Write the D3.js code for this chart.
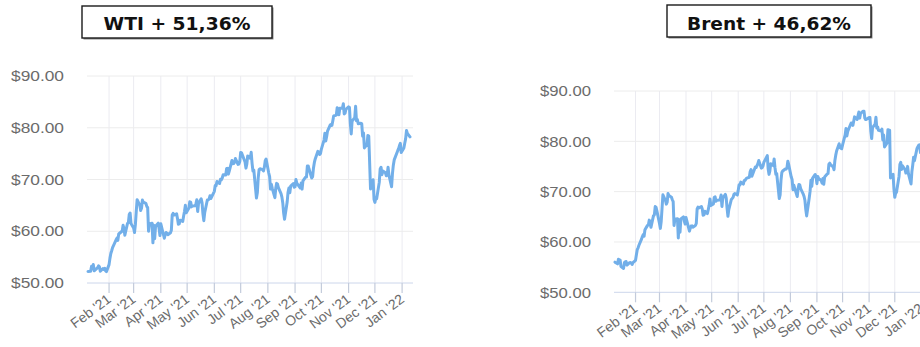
<!DOCTYPE html>
<html><head><meta charset="utf-8">
<script src="https://cdn.jsdelivr.net/npm/d3@7"></script>
<style>html,body{margin:0;padding:0;background:#fff;overflow:hidden}svg{display:block}</style>
</head><body>
<svg id="chart" width="920" height="347"></svg>
<script>
// ---------- DATA ----------
const titles = ["WTI + 51,36%", "Brent + 46,62%"];
const yTicks = [50, 60, 70, 80, 90];
const monthTicks = ["2021-02-01","2021-03-01","2021-04-01","2021-05-01","2021-06-01","2021-07-01",
  "2021-08-01","2021-09-01","2021-10-01","2021-11-01","2021-12-01","2022-01-01"];
const dates = [
  // Jan 2021
  "2021-01-08","2021-01-11","2021-01-12","2021-01-13","2021-01-14","2021-01-15","2021-01-18","2021-01-19","2021-01-20","2021-01-21","2021-01-22","2021-01-25","2021-01-26","2021-01-27","2021-01-28","2021-01-29",
  // Feb
  "2021-02-01","2021-02-02","2021-02-03","2021-02-04","2021-02-05","2021-02-08","2021-02-09","2021-02-10","2021-02-11","2021-02-12","2021-02-15","2021-02-16","2021-02-17","2021-02-18","2021-02-19","2021-02-22","2021-02-23","2021-02-24","2021-02-25","2021-02-26",
  // Mar
  "2021-03-01","2021-03-02","2021-03-03","2021-03-04","2021-03-05","2021-03-08","2021-03-09","2021-03-10","2021-03-11","2021-03-12","2021-03-15","2021-03-16","2021-03-17","2021-03-18","2021-03-19","2021-03-22","2021-03-23","2021-03-24","2021-03-25","2021-03-26","2021-03-29","2021-03-30","2021-03-31",
  // Apr
  "2021-04-01","2021-04-05","2021-04-06","2021-04-07","2021-04-08","2021-04-09","2021-04-12","2021-04-13","2021-04-14","2021-04-15","2021-04-16","2021-04-19","2021-04-20","2021-04-21","2021-04-22","2021-04-23","2021-04-26","2021-04-27","2021-04-28","2021-04-29","2021-04-30",
  // May
  "2021-05-03","2021-05-04","2021-05-05","2021-05-06","2021-05-07","2021-05-10","2021-05-11","2021-05-12","2021-05-13","2021-05-14","2021-05-17","2021-05-18","2021-05-19","2021-05-20","2021-05-21","2021-05-24","2021-05-25","2021-05-26","2021-05-27","2021-05-28","2021-05-31",
  // Jun
  "2021-06-01","2021-06-02","2021-06-03","2021-06-04","2021-06-07","2021-06-08","2021-06-09","2021-06-10","2021-06-11","2021-06-14","2021-06-15","2021-06-16","2021-06-17","2021-06-18","2021-06-21","2021-06-22","2021-06-23","2021-06-24","2021-06-25","2021-06-28","2021-06-29","2021-06-30",
  // Jul
  "2021-07-01","2021-07-02","2021-07-05","2021-07-06","2021-07-07","2021-07-08","2021-07-09","2021-07-12","2021-07-13","2021-07-14","2021-07-15","2021-07-16","2021-07-19","2021-07-20","2021-07-21","2021-07-22","2021-07-23","2021-07-26","2021-07-27","2021-07-28","2021-07-29","2021-07-30",
  // Aug
  "2021-08-02","2021-08-03","2021-08-04","2021-08-05","2021-08-06","2021-08-09","2021-08-10","2021-08-11","2021-08-12","2021-08-13","2021-08-16","2021-08-17","2021-08-18","2021-08-19","2021-08-20","2021-08-23","2021-08-24","2021-08-25","2021-08-26","2021-08-27","2021-08-30","2021-08-31",
  // Sep
  "2021-09-01","2021-09-02","2021-09-03","2021-09-06","2021-09-07","2021-09-08","2021-09-09","2021-09-10","2021-09-13","2021-09-14","2021-09-15","2021-09-16","2021-09-17","2021-09-20","2021-09-21","2021-09-22","2021-09-23","2021-09-24","2021-09-27","2021-09-28","2021-09-29","2021-09-30",
  // Oct
  "2021-10-01","2021-10-04","2021-10-05","2021-10-06","2021-10-07","2021-10-08","2021-10-11","2021-10-12","2021-10-13","2021-10-14","2021-10-15","2021-10-18","2021-10-19","2021-10-20","2021-10-21","2021-10-22","2021-10-25","2021-10-26","2021-10-27","2021-10-28","2021-10-29",
  // Nov
  "2021-11-01","2021-11-02","2021-11-03","2021-11-04","2021-11-05","2021-11-08","2021-11-09","2021-11-10","2021-11-11","2021-11-12","2021-11-15","2021-11-16","2021-11-17","2021-11-18","2021-11-19","2021-11-22","2021-11-23","2021-11-24","2021-11-25","2021-11-26","2021-11-29","2021-11-30",
  // Dec
  "2021-12-01","2021-12-02","2021-12-03","2021-12-06","2021-12-07","2021-12-08","2021-12-09","2021-12-10","2021-12-13","2021-12-14","2021-12-15","2021-12-16","2021-12-17","2021-12-20","2021-12-21","2021-12-22","2021-12-23","2021-12-24","2021-12-27","2021-12-28","2021-12-29","2021-12-30","2021-12-31",
  // Jan 2022
  "2022-01-03","2022-01-04","2022-01-05","2022-01-06","2022-01-07","2022-01-10"
];
const wti = [
  52.24,52.25,53.21,52.91,53.57,52.36,null,52.98,53.31,53.13,52.27,52.77,52.61,52.85,52.34,52.20,
  53.55,54.76,55.69,56.23,56.85,57.97,58.36,58.68,58.24,59.47,null,60.05,61.14,60.52,59.24,61.49,61.67,63.22,63.53,61.50,
  60.64,59.75,61.28,63.83,66.09,65.05,64.01,64.44,66.02,65.61,65.39,64.80,64.60,60.00,61.42,61.55,57.76,61.18,58.56,60.97,61.56,60.55,59.16,
  61.45,58.65,59.33,59.77,59.60,59.32,59.70,60.18,63.15,63.46,63.13,63.38,62.44,61.35,61.43,62.14,61.91,62.94,63.86,65.01,63.58,
  64.49,65.69,65.63,64.71,64.90,64.92,65.28,66.08,63.82,65.37,66.27,65.49,63.36,62.05,63.58,66.05,66.07,66.21,66.85,66.32,null,
  67.72,68.83,68.81,69.62,69.23,70.05,69.96,70.29,70.91,70.88,72.12,72.15,71.04,71.64,73.66,73.06,73.08,73.30,74.05,72.91,72.98,73.47,
  75.23,75.16,null,73.37,72.20,72.94,74.56,74.10,75.25,73.13,71.65,71.81,66.42,67.42,70.30,71.91,72.07,71.91,71.65,72.39,73.62,73.95,
  71.26,70.56,68.15,69.09,68.28,66.48,68.29,69.25,69.09,68.44,67.29,66.59,65.46,63.50,62.32,65.64,67.54,68.36,67.42,68.74,69.21,68.50,
  68.59,69.99,69.29,null,68.35,69.30,68.14,69.72,70.45,70.46,72.61,72.61,71.97,70.29,70.56,72.23,73.30,73.98,75.45,75.29,74.83,75.03,
  75.88,77.62,78.93,77.43,78.30,79.35,80.52,80.64,80.44,81.31,82.28,82.44,83.87,83.42,82.50,83.76,83.76,84.65,82.66,82.81,83.57,
  84.05,83.91,80.86,78.81,81.27,81.93,84.15,81.34,81.59,80.79,80.88,80.76,78.36,79.01,76.10,76.75,78.50,78.39,null,68.15,69.95,66.18,
  65.57,66.50,66.26,69.49,72.05,72.36,70.94,71.67,71.29,70.73,70.87,72.38,70.86,68.61,71.12,72.76,73.79,null,75.57,75.98,76.56,76.99,75.21,
  76.08,76.99,77.85,79.46,78.90,78.23
];
const brent = [
  55.99,55.66,56.58,56.06,56.42,55.10,54.75,55.90,56.08,56.10,55.41,55.88,55.91,55.81,55.53,55.88,
  56.35,57.46,58.46,58.84,59.34,60.56,61.09,61.47,61.14,62.43,63.30,63.35,64.34,63.93,62.91,65.24,65.37,67.04,66.88,66.13,
  63.69,62.70,64.07,66.74,69.36,68.24,67.52,67.90,69.63,69.22,68.88,68.39,68.00,63.28,64.53,64.62,60.79,64.41,61.95,64.57,64.98,64.14,63.54,
  64.86,62.15,62.74,63.16,63.20,62.95,63.28,63.67,66.58,66.94,66.77,67.05,66.57,65.32,65.40,66.11,65.65,66.42,67.27,68.56,67.25,
  67.56,68.88,68.96,68.09,68.28,68.32,68.55,69.32,67.05,68.71,69.46,68.71,66.66,65.11,66.44,68.46,68.65,68.87,69.46,69.63,69.32,
  70.25,71.35,71.31,71.89,71.49,72.22,72.22,72.52,72.69,72.86,73.99,74.39,73.08,73.51,74.90,74.81,75.19,75.56,76.18,74.68,74.76,75.13,
  75.84,76.17,77.16,74.53,73.43,74.12,75.55,75.16,76.49,74.76,73.47,73.59,68.62,69.35,72.23,73.79,74.10,74.50,74.48,74.74,76.05,75.41,
  72.89,72.41,70.38,71.29,70.70,69.04,70.63,71.44,71.31,70.59,69.51,69.03,68.23,66.45,65.18,68.75,70.05,72.25,71.07,72.70,73.41,72.99,
  71.59,73.03,72.61,72.22,71.69,72.60,71.45,72.92,73.51,73.60,75.46,75.67,75.34,74.92,74.36,76.19,77.25,78.09,79.53,78.72,78.64,78.52,
  79.28,81.26,82.56,81.08,81.95,82.39,83.65,83.42,83.18,84.00,84.86,84.33,85.08,85.82,84.61,85.53,85.99,86.00,84.58,84.32,84.38,
  84.71,84.72,81.99,80.54,82.74,83.43,84.78,82.64,82.87,82.17,82.05,82.43,80.28,81.24,78.89,79.70,82.31,82.25,82.22,72.72,73.44,70.57,
  68.87,69.67,69.88,73.08,75.44,75.82,74.42,75.15,74.39,73.70,73.88,75.02,73.52,71.52,73.98,75.29,76.85,76.14,78.60,78.94,79.23,79.32,77.78,
  78.98,80.00,80.80,81.99,81.75,80.87
];

// ---------- LAYOUT ----------
const parse = d3.utcParse("%Y-%m-%d");
const fmt = d3.utcFormat("%b '%y");
const svg = d3.select("#chart");

const panels = [
  {title: titles[0], values: wti, px0: 87, px1: 413, x0: 88, x1: 410, yTop: 76, yBot: 283,
   labelX: 64, labelW: 53, box: [82, 6, 190, 32], textW: 147, textY: 30},
  {title: titles[1], values: brent, px0: 614, px1: 945, x0: 615, x1: 929, yTop: 91, yBot: 292.3,
   labelX: 591, labelW: 51, box: [667, 5, 204, 32], textW: 164, textY: 29.5}
];

const parsedDates = dates.map(parse);
const parsedTicks = monthTicks.map(parse);

panels.forEach(p => {
  const g = svg.append("g");
  const x = d3.scaleUtc().domain(d3.extent(parsedDates)).range([p.x0, p.x1]);
  const y = d3.scaleLinear().domain([50, 90]).range([p.yBot, p.yTop]);

  // title box
  const [bx, by, bw, bh] = p.box;
  g.append("rect").attr("x", bx + 1.5).attr("y", by + 1.5).attr("width", bw).attr("height", bh)
    .attr("fill", "#8a8a8a");
  g.append("rect").attr("x", bx).attr("y", by).attr("width", bw).attr("height", bh)
    .attr("fill", "#fff").attr("stroke", "#1a1a1a").attr("stroke-width", 1.4);
  g.append("text").attr("x", bx + bw / 2 - p.textW / 2).attr("y", p.textY)
    .attr("textLength", p.textW).attr("lengthAdjust", "spacingAndGlyphs")
    .attr("font-family", "'DejaVu Sans', sans-serif").attr("font-weight", "bold")
    .attr("font-size", 18).attr("fill", "#111").text(p.title);

  // vertical grid
  g.selectAll(".vg").data(parsedTicks).enter().append("line")
    .attr("x1", d => x(d)).attr("x2", d => x(d))
    .attr("y1", p.yTop).attr("y2", p.yBot)
    .attr("stroke", "#ebebf1").attr("stroke-width", 1);

  // horizontal grid
  g.selectAll(".hg").data(yTicks).enter().append("line")
    .attr("x1", p.px0).attr("x2", p.px1)
    .attr("y1", d => y(d)).attr("y2", d => y(d))
    .attr("stroke", d => d === 50 ? "#ccd6eb" : "#ececec").attr("stroke-width", 1);

  // tick marks
  g.selectAll(".tk").data(parsedTicks).enter().append("line")
    .attr("x1", d => x(d)).attr("x2", d => x(d))
    .attr("y1", p.yBot).attr("y2", p.yBot + 10)
    .attr("stroke", "#c3cbdb").attr("stroke-width", 1.2);

  // y labels
  g.selectAll(".yl").data(yTicks).enter().append("text")
    .attr("x", p.labelX - p.labelW).attr("y", d => y(d)).attr("dy", "0.36em")
    .attr("textLength", p.labelW).attr("lengthAdjust", "spacingAndGlyphs")
    .attr("font-family", "'Liberation Sans', Arial, sans-serif").attr("font-size", 14.5)
    .attr("fill", "#6b6b6b").text(d => "$" + d3.format(".2f")(d));

  // x labels
  g.selectAll(".xl").data(parsedTicks).enter().append("text")
    .attr("transform", d => `translate(${x(d) + 3},${p.yBot + 18}) rotate(-37)`)
    .attr("text-anchor", "end")
    .attr("font-family", "'Liberation Sans', Arial, sans-serif").attr("font-size", 14)
    .attr("fill", "#6b6b6b").text(d => fmt(d));

  // line
  const pts = parsedDates.map((d, i) => ({d, v: p.values[i]})).filter(o => o.v != null);
  const line = d3.line().x(o => x(o.d)).y(o => y(o.v));
  g.append("path").datum(pts).attr("d", line)
    .attr("fill", "none").attr("stroke", "#72afe9").attr("stroke-width", 3)
    .attr("stroke-linejoin", "round").attr("stroke-linecap", "round");
});
</script>
</body></html>
